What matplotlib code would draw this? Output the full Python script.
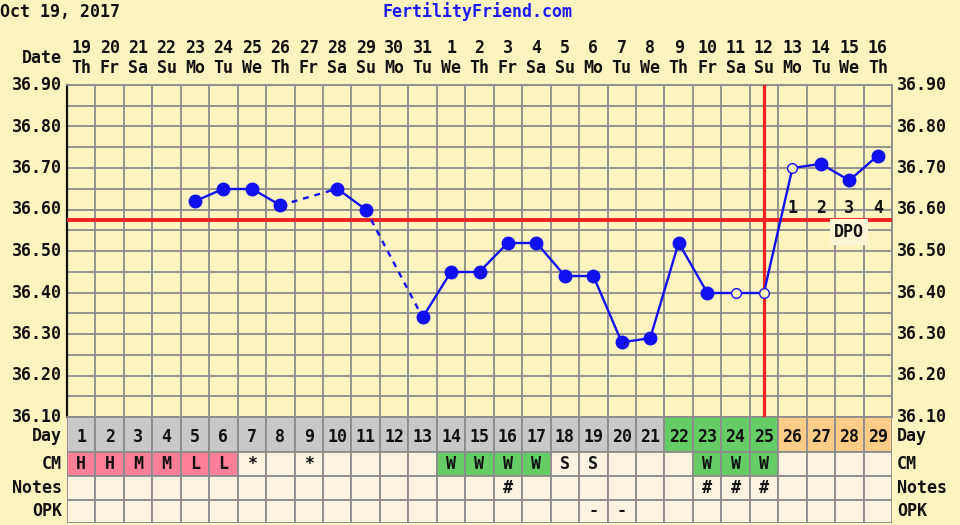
import matplotlib
matplotlib.use("Agg")
import matplotlib.pyplot as plt
from matplotlib.patches import Rectangle
from matplotlib.transforms import blended_transform_factory as blend

# ---------------- data ----------------
cycle_days = list(range(1, 30))
dates = [19, 20, 21, 22, 23, 24, 25, 26, 27, 28, 29, 30, 31,
         1, 2, 3, 4, 5, 6, 7, 8, 9, 10, 11, 12, 13, 14, 15, 16]
weekdays = ['Th', 'Fr', 'Sa', 'Su', 'Mo', 'Tu', 'We'] * 4 + ['Th']
temps = [None, None, None, None, 36.62, 36.65, 36.65, 36.61, None, 36.65,
         36.60, None, 36.34, 36.45, 36.45, 36.52, 36.52, 36.44, 36.44, 36.28,
         36.29, 36.52, 36.40, 36.40, 36.40, 36.70, 36.71, 36.67, 36.73]
open_days = [24, 25, 26]
coverline = 36.575
ovulation_day = 25
dpo_days = [26, 27, 28, 29]
dpo_labels = ['1', '2', '3', '4']
temp_ticks = [36.10, 36.20, 36.30, 36.40, 36.50, 36.60, 36.70, 36.80, 36.90]
day_phase = ['grey'] * 21 + ['green'] * 4 + ['orange'] * 4
cm = ['H', 'H', 'M', 'M', 'L', 'L', '*', '', '*', '', '', '', '', 'W', 'W', 'W', 'W',
      'S', 'S', '', '', '', 'W', 'W', 'W', '', '', '', '']
notes = [''] * 15 + ['#'] + [''] * 6 + ['#', '#', '#'] + [''] * 4
opk = [''] * 18 + ['-', '-'] + [''] * 9

# ---------------- style ----------------
BG = '#FDF3BF'
CELL = '#FBF2E0'
GRID = '#8C8C8C'
BLUE = '#1010F0'
RED = '#EE2222'
PHASE_COL = {'grey': '#C8C8C8', 'green': '#66CC66', 'orange': '#FFCC88'}
CM_COL = {'H': '#FF8098', 'M': '#FF8098', 'L': '#FF8098', 'W': '#66CC66'}
FONT = dict(family='DejaVu Sans Mono', weight='bold', fontsize=12, color='#111111')

W, H = 960, 525
fig = plt.figure(figsize=(W / 100, H / 100), dpi=100)
fig.patch.set_facecolor(BG)

L, R, T, B = 67, 892, 85, 417
ax = fig.add_axes([L / W, 1 - B / H, (R - L) / W, (B - T) / H])
ax.set_facecolor(BG)
ax.set_xlim(0.5, 29.5)
ax.set_ylim(36.10, 36.90)
ax.set_xticks([d + 0.5 for d in range(0, 30)])
ax.set_yticks([36.10 + 0.05 * k for k in range(17)])
ax.tick_params(length=0, labelbottom=False, labelleft=False)
ax.grid(True, color=GRID, lw=1.3, zorder=0)
for s in ax.spines.values():
    s.set_color(GRID)
    s.set_linewidth(1.3)
ax.spines['left'].set_color('#111111')
ax.spines['left'].set_linewidth(1.6)

# temperature tick labels
tl = blend(ax.transAxes, ax.transData)
for t in temp_ticks:
    ax.text(-0.006, t, f'{t:.2f}', transform=tl, ha='right', va='center', **FONT)
    ax.text(1.006, t, f'{t:.2f}', transform=tl, ha='left', va='center', **FONT)

# header
fig.text(0, 1 - 12 / H, 'Oct 19, 2017', ha='left', va='center', **FONT)
hf = dict(FONT)
hf['color'] = '#1A1AF5'
fig.text(477 / W, 1 - 12 / H, 'FertilityFriend.com', ha='center', va='center', **hf)
th = blend(ax.transData, fig.transFigure)
fig.text(62 / W, 1 - 58 / H, 'Date', ha='right', va='center', **FONT)
for d, dt, wd in zip(cycle_days, dates, weekdays):
    ax.text(d, 1 - 48 / H, str(dt), transform=th, ha='center', va='center', **FONT)
    ax.text(d, 1 - 68 / H, wd, transform=th, ha='center', va='center', **FONT)

# coverline / ovulation
ax.axhline(coverline, color=RED, lw=2.8, zorder=3)
ax.axvline(ovulation_day, color=RED, lw=2.3, zorder=3)

# temperature line
pts = [(d, t) for d, t in zip(cycle_days, temps) if t is not None]
for (d0, t0), (d1, t1) in zip(pts[:-1], pts[1:]):
    ls = '-' if d1 - d0 == 1 else (0, (2.5, 2.5))
    ax.plot([d0, d1], [t0, t1], color=BLUE, lw=1.7, ls=ls, zorder=4)
for d, t in pts:
    if d in open_days:
        ax.plot(d, t, 'o', ms=7, mfc=BG, mec=BLUE, mew=1.0, zorder=5)
    else:
        ax.plot(d, t, 'o', ms=9, mfc=BLUE, mec=BLUE, zorder=5)

# DPO labels
for d, lab in zip(dpo_days, dpo_labels):
    ax.text(d, 36.604, lab, ha='center', va='center', zorder=6, **FONT)
ax.text(28, 36.545, 'DPO', ha='center', va='center', zorder=6,
        bbox=dict(boxstyle='square,pad=0.25', fc='#FDF5D6', ec='none'), **FONT)

# ---------------- bottom table ----------------
ax2 = fig.add_axes([L / W, 1 - 523 / H, (R - L) / W, (523 - B) / H])
ax2.set_xlim(0.5, 29.5)
ax2.set_ylim(523, 417)
ax2.axis('off')
rows = [(417, 452), (452, 476), (476, 500), (500, 523)]
for i, d in enumerate(cycle_days):
    cols = [PHASE_COL[day_phase[i]], CM_COL.get(cm[i], CELL), CELL, CELL]
    texts = [str(d), cm[i], notes[i], opk[i]]
    for (y0, y1), c, tx in zip(rows, cols, texts):
        ax2.add_patch(Rectangle((d - 0.5, y0), 1, y1 - y0, fc=c, ec=GRID, lw=1.3))
        if tx:
            ax2.text(d, (y0 + y1) / 2 + (2 if y0 == 417 else 0), tx,
                     ha='center', va='center', **FONT)

tr = blend(ax2.transAxes, ax2.transData)
lab_y = [('Day', 436), ('CM', 464), ('Notes', 488), ('OPK', 511)]
for lab, y in lab_y:
    ax2.text(-0.006, y, lab, transform=tr, ha='right', va='center', **FONT)
    ax2.text(1.006, y, lab, transform=tr, ha='left', va='center', **FONT)

fig.savefig('out.png', dpi=100, facecolor=BG)
